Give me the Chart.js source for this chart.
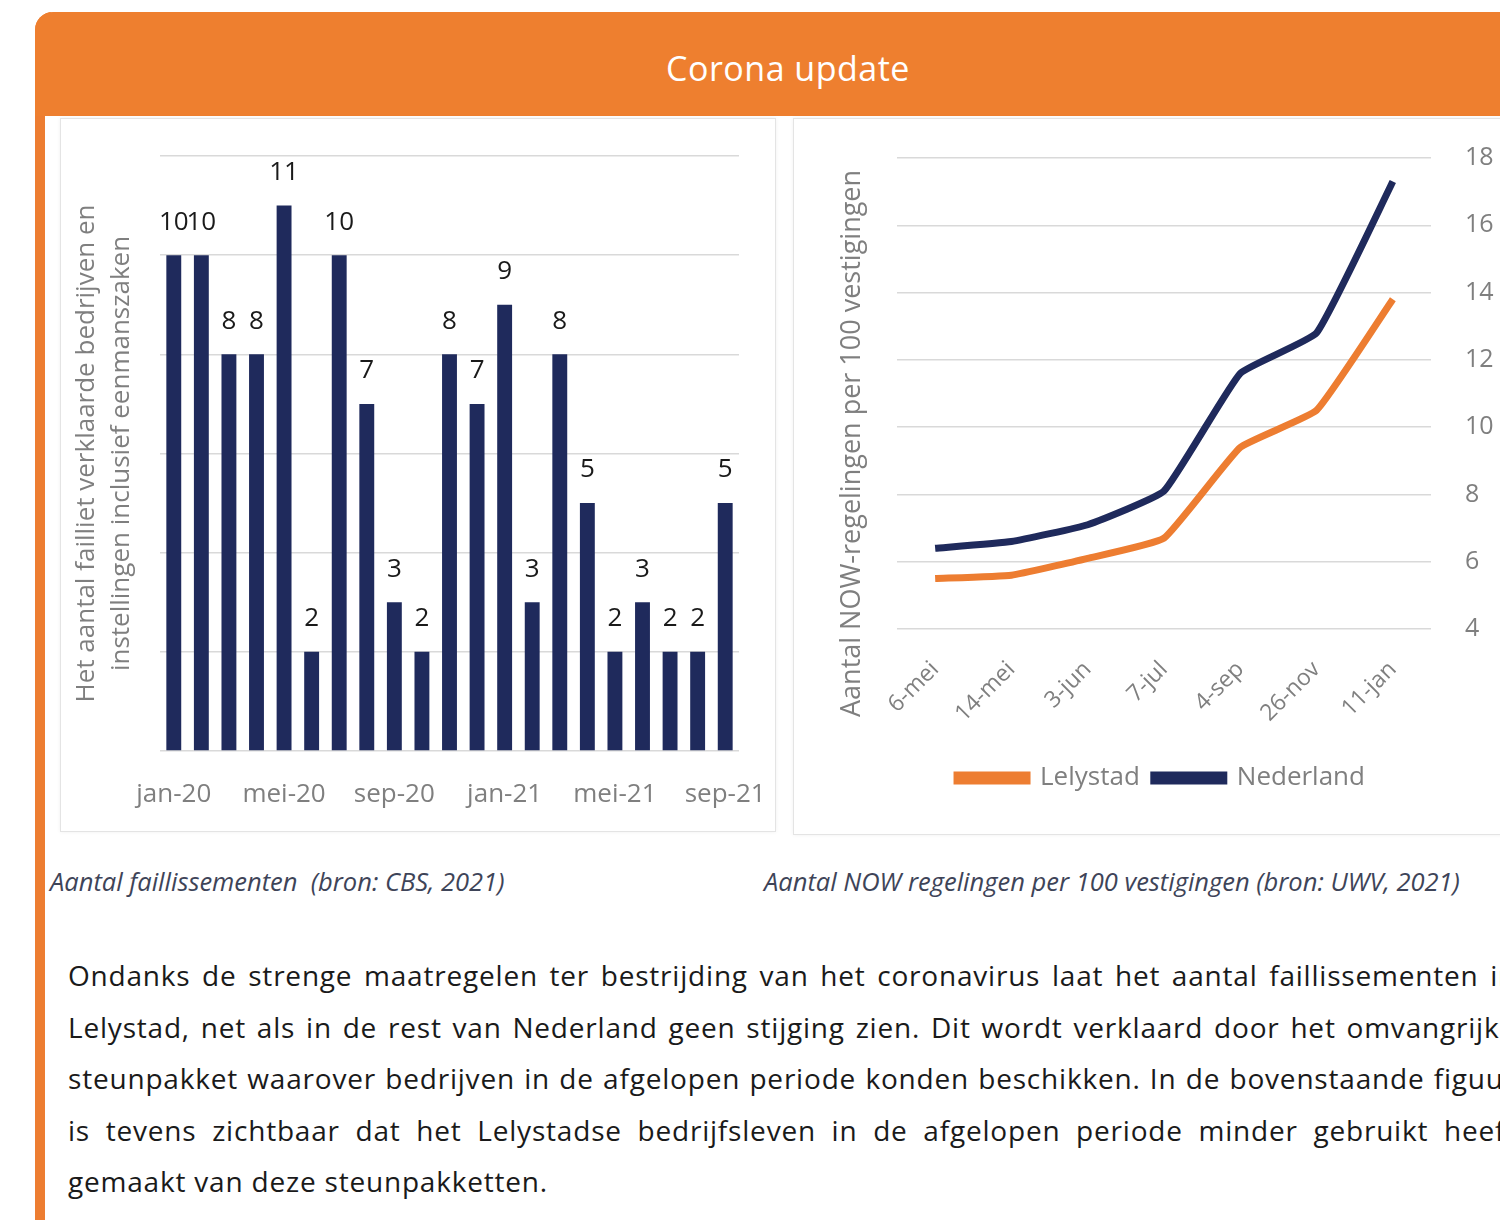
<!DOCTYPE html>
<html lang="nl">
<head>
<meta charset="utf-8">
<title>Corona update</title>
<script src="https://cdn.jsdelivr.net/npm/chart.js@4"></script>
<style>
  html, body { margin: 0; padding: 0; background: #fff; }
  body { width: 1500px; height: 1220px; overflow: hidden; position: relative; font-family: "Open Sans", sans-serif; }
  .frame { position: absolute; left: 35px; top: 12px; width: 1600px; height: 1300px; border-left: 10px solid #ed7d31; border-top-left-radius: 18px; }
  .header { position: absolute; left: 35px; top: 12px; width: 1506px; height: 104px; background: #ee7f2f; border-top-left-radius: 18px; color: #fff; font-size: 34px; text-align: center; line-height: 112px; letter-spacing: 0.5px; }
  .card { position: absolute; background: #fff; border: 1px solid #e4e4e4; box-shadow: 0 0 4px rgba(0,0,0,0.06); }
  #cardLeft { left: 60px; top: 118px; width: 714px; height: 712px; }
  #cardRight { left: 793px; top: 118px; width: 760px; height: 715px; }
  .caption { position: absolute; top: 864px; font-style: italic; font-size: 25.5px; color: #3e4458; white-space: nowrap; }
  .ytitle { position: absolute; color: #7f7f7f; font-size: 27px; white-space: nowrap; transform-origin: 0 0; transform: rotate(-90deg); }
  .para { position: absolute; left: 68px; top: 953px; width: 1448px; font-size: 28px; letter-spacing: 0.8px; color: #1a1a1a; }
  .para div { height: 51.5px; line-height: 44px; text-align: justify; text-align-last: justify; }
  .para div.last { text-align-last: left; }
</style>
</head>
<body>
<div class="frame"></div>
<div class="header">Corona update</div>

<div class="card" id="cardLeft"><canvas id="bars"></canvas></div>
<div class="card" id="cardRight"><canvas id="lines"></canvas></div>
<div class="ytitle" style="left:831px; top:717px;">Aantal NOW-regelingen per 100 vestigingen</div>

<div class="caption" style="left:50px;">Aantal faillissementen &nbsp;(bron: CBS, 2021)</div>
<div class="caption" style="left:764px;">Aantal NOW regelingen per 100 vestigingen (bron: UWV, 2021)</div>

<div class="para">
  <div>Ondanks de strenge maatregelen ter bestrijding van het coronavirus laat het aantal faillissementen in</div>
  <div>Lelystad, net als in de rest van Nederland geen stijging zien. Dit wordt verklaard door het omvangrijke</div>
  <div>steunpakket waarover bedrijven in de afgelopen periode konden beschikken. In de bovenstaande figuur</div>
  <div>is tevens zichtbaar dat het Lelystadse bedrijfsleven in de afgelopen periode minder gebruikt heeft</div>
  <div class="last">gemaakt van deze steunpakketten.</div>
</div>

<script>
// DATA
const months = [
  "jan-20", "feb-20", "mrt-20", "apr-20", "mei-20", "jun-20", "jul-20",
  "aug-20", "sep-20", "okt-20", "nov-20", "dec-20", "jan-21", "feb-21",
  "mrt-21", "apr-21", "mei-21", "jun-21", "jul-21", "aug-21", "sep-21",
];
const faillissementen = [10, 10, 8, 8, 11, 2, 10, 7, 3, 2, 8, 7, 9, 3, 8, 5, 2, 3, 2, 2, 5];

const dates = ["6-mei", "14-mei", "3-jun", "7-jul", "4-sep", "26-nov", "11-jan"];
const lelystad = [5.5, 5.6, 6.1, 6.7, 9.4, 10.5, 13.8];
const nederland = [6.4, 6.6, 7.1, 8.1, 11.6, 12.8, 17.3];
const nowTicks = [4, 6, 8, 10, 12, 14, 16, 18];

const ORANGE = "#ed7d31";
const NAVY = "#1f2a5c";
const GREY = "#7f7f7f";
const GRID = "#d9d9d9";
const FONT = "'Open Sans', sans-serif";

Chart.defaults.font.family = FONT;
Chart.defaults.color = GREY;

// labels of the scales must not push the plot area around
const noPad = s => { s.paddingLeft = s.paddingRight = s.paddingTop = s.paddingBottom = 0; };

// value labels above the bars
const barLabels = {
  id: "barLabels",
  afterDatasetsDraw(chart) {
    const ctx = chart.ctx;
    const meta = chart.getDatasetMeta(0);
    ctx.save();
    ctx.font = "26px " + FONT;
    ctx.fillStyle = "#1a1a1a";
    ctx.textAlign = "center";
    ctx.textBaseline = "middle";
    meta.data.forEach((bar, i) => {
      ctx.fillText(String(faillissementen[i]), bar.x, bar.y - 33);
    });
    ctx.restore();
  },
};

// LEFT CHART
const barCanvas = document.querySelector("#bars");
barCanvas.width = 714; barCanvas.height = 712;
new Chart(barCanvas, {
  type: "bar",
  data: {
    labels: months,
    datasets: [{
      data: faillissementen,
      backgroundColor: NAVY,
      barPercentage: 0.54,
      categoryPercentage: 1,
    }],
  },
  options: {
    responsive: false,
    animation: false,
    events: [],
    layout: { padding: { left: 8, right: 36, top: 37, bottom: 8 } },
    plugins: { legend: { display: false }, tooltip: { enabled: false } },
    scales: {
      x: {
        grid: { display: false },
        border: { display: false },
        ticks: {
          autoSkip: false,
          maxRotation: 0,
          padding: 20,
          font: { size: 26 },
          callback: (v, i) => (i % 4 === 0 ? months[i] : ""),
        },
        afterFit: s => { s.height = 72; noPad(s); },
      },
      y: {
        min: 0,
        max: 12,
        ticks: { display: false, stepSize: 2 },
        grid: { color: GRID, lineWidth: 1.5, drawTicks: false },
        border: { display: false },
        title: {
          display: true,
          text: ["Het aantal failliet verklaarde bedrijven en", "instellingen inclusief eenmanszaken"],
          font: { size: 26, lineHeight: 1.35 },
          color: GREY,
          padding: 0,
        },
        afterFit: s => { s.width = 91; noPad(s); },
      },
    },
  },
  plugins: [barLabels],
});

// RIGHT CHART
const lineCanvas = document.querySelector("#lines");
lineCanvas.width = 734; lineCanvas.height = 715;
new Chart(lineCanvas, {
  type: "line",
  data: {
    labels: dates,
    datasets: [
      {
        label: "Lelystad",
        data: lelystad,
        borderColor: ORANGE,
        backgroundColor: ORANGE,
        borderWidth: 7,
        pointRadius: 0,
        tension: 0.12,
      },
      {
        label: "Nederland",
        data: nederland,
        borderColor: NAVY,
        backgroundColor: NAVY,
        borderWidth: 7,
        pointRadius: 0,
        tension: 0.12,
      },
    ],
  },
  options: {
    responsive: false,
    animation: false,
    events: [],
    layout: { padding: { left: 0, right: 0, top: 39, bottom: 33 } },
    plugins: {
      tooltip: { enabled: false },
      legend: {
        position: "bottom",
        labels: {
          boxWidth: 70,
          boxHeight: 6,
          padding: 14,
          color: GREY,
          font: { size: 26 },
        },
      },
    },
    scales: {
      x: {
        offset: true,
        grid: { display: false },
        border: { display: false },
        ticks: {
          minRotation: 45,
          maxRotation: 45,
          padding: 19,
          font: { size: 23 },
          color: GREY,
        },
        afterFit: s => { s.height = 122; noPad(s); },
      },
      // empty left axis that only reserves room for the html axis title
      yl: {
        position: "left",
        min: 4,
        max: 18,
        ticks: { display: false },
        grid: { display: false },
        border: { display: false },
        afterFit: s => { s.width = 103; noPad(s); },
      },
      y: {
        position: "right",
        min: 4,
        max: 18,
        afterBuildTicks: s => { s.ticks = nowTicks.map(v => ({ value: v })); },
        ticks: { padding: 34, font: { size: 25 }, color: GREY },
        grid: { color: GRID, lineWidth: 1.5, drawTicks: false },
        border: { display: false },
        afterFit: s => { s.width = 97; noPad(s); },
      },
    },
  },
});
</script>
</body>
</html>
